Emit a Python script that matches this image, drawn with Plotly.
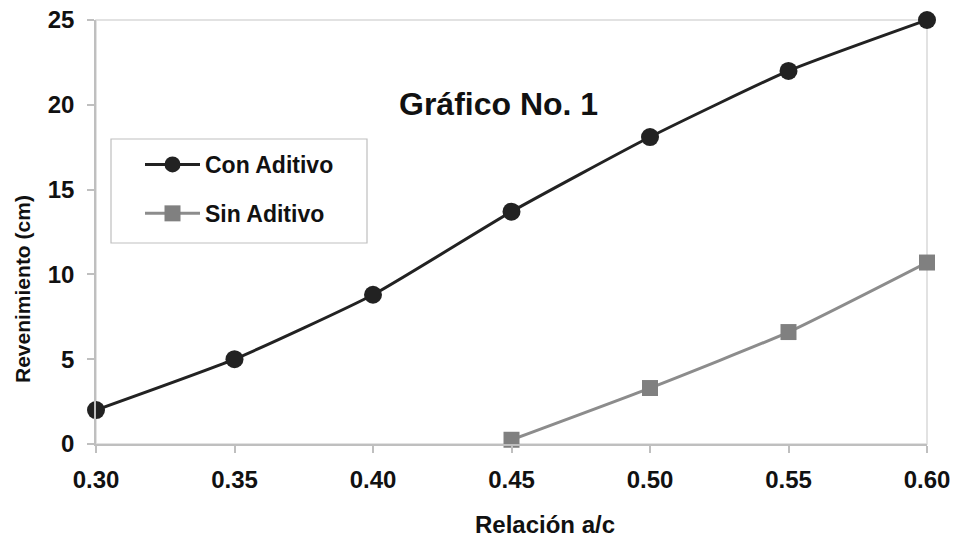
import plotly.graph_objects as go

# Relación agua/cemento y revenimiento medido
relacion_con = [0.30, 0.35, 0.40, 0.45, 0.50, 0.55, 0.60]
revenimiento_con = [2.0, 5.0, 8.8, 13.7, 18.1, 22.0, 25.0]

relacion_sin = [0.45, 0.50, 0.55, 0.60]
revenimiento_sin = [0.25, 3.3, 6.6, 10.7]

x_ticks = [0.30, 0.35, 0.40, 0.45, 0.50, 0.55, 0.60]
x_tick_labels = ["0.30", "0.35", "0.40", "0.45", "0.50", "0.55", "0.60"]
y_ticks = [0, 5, 10, 15, 20, 25]

FONT = "Arial, Liberation Sans, sans-serif"
W, H = 955, 537
L, R, T, B = 96, 28, 20, 93
PW, PH = W - L - R, H - T - B


def px_x(p):
    return (p - L) / PW


def px_y(p):
    return (H - B - p) / PH


fig = go.Figure()

fig.add_trace(go.Scatter(
    x=relacion_con, y=revenimiento_con, name="Con Aditivo",
    mode="lines+markers", legendgroup="a",
    line=dict(color="#222222", width=3, shape="spline", smoothing=0.5),
    marker=dict(symbol="circle", size=18, color="#222222"),
    cliponaxis=False,
))
fig.add_trace(go.Scatter(
    x=relacion_sin, y=revenimiento_sin, name="Sin Aditivo",
    mode="lines+markers", legendgroup="b",
    line=dict(color="#8c8c8c", width=3, shape="spline", smoothing=0.5),
    marker=dict(symbol="square", size=16, color="#808080"),
    cliponaxis=False,
))

# Marco del área de trazado
fig.add_shape(type="rect", xref="paper", yref="paper",
              x0=0, x1=1, y0=0, y1=1,
              line=dict(color="#d9d9d9", width=1.5), layer="below")
# Recuadro de la leyenda
fig.add_shape(type="rect", xref="paper", yref="paper",
              x0=px_x(111), x1=px_x(367), y0=px_y(243), y1=px_y(139),
              line=dict(color="#bfbfbf", width=1.2), fillcolor="white",
              layer="below")

fig.add_annotation(text="<b>Gráfico No. 1</b>", xref="paper", yref="paper",
                   x=px_x(498), y=px_y(104), showarrow=False,
                   xanchor="center", yanchor="middle",
                   font=dict(family=FONT, size=32, color="#111111"))

# Títulos de los ejes
fig.add_annotation(text="<b>Relación a/c</b>", xref="paper", yref="paper",
                   x=px_x(545), y=px_y(524), showarrow=False,
                   xanchor="center", yanchor="middle",
                   font=dict(family=FONT, size=24, color="#111111"))
fig.add_annotation(text="<b>Revenimiento (cm)</b>", xref="paper", yref="paper",
                   x=px_x(22), y=px_y(289), showarrow=False, textangle=-90,
                   xanchor="center", yanchor="middle",
                   font=dict(family=FONT, size=21, color="#111111"))

fig.update_layout(
    width=W, height=H,
    margin=dict(l=L, r=R, t=T, b=B, autoexpand=False),
    paper_bgcolor="white", plot_bgcolor="white",
    font=dict(family=FONT, color="#111111"),
    showlegend=True,
    legend=dict(
        x=px_x(140), y=px_y(143), xanchor="left", yanchor="top",
        bgcolor="rgba(0,0,0,0)", borderwidth=0,
        font=dict(family=FONT, size=23, color="#111111", weight="bold"),
        tracegroupgap=16, itemwidth=55,
    ),
    xaxis=dict(
        range=[0.30, 0.60], tickvals=x_ticks, ticktext=x_tick_labels,
        showgrid=False, zeroline=False, automargin=False,
        showline=True, linecolor="#bfbfbf", linewidth=1.5,
        ticks="outside", ticklen=7, tickcolor="#bfbfbf", tickwidth=1.5,
        tickfont=dict(family=FONT, size=24, color="#111111", weight="bold"),
        ticklabelstandoff=6,
    ),
    yaxis=dict(
        range=[0, 25], tickvals=y_ticks,
        showgrid=False, zeroline=False, automargin=False,
        showline=True, linecolor="#bfbfbf", linewidth=1.5,
        ticks="outside", ticklen=7, tickcolor="#bfbfbf", tickwidth=1.5,
        tickfont=dict(family=FONT, size=24, color="#111111", weight="bold"),
        ticklabelstandoff=8,
    ),
)

fig.write_html("out.html")
